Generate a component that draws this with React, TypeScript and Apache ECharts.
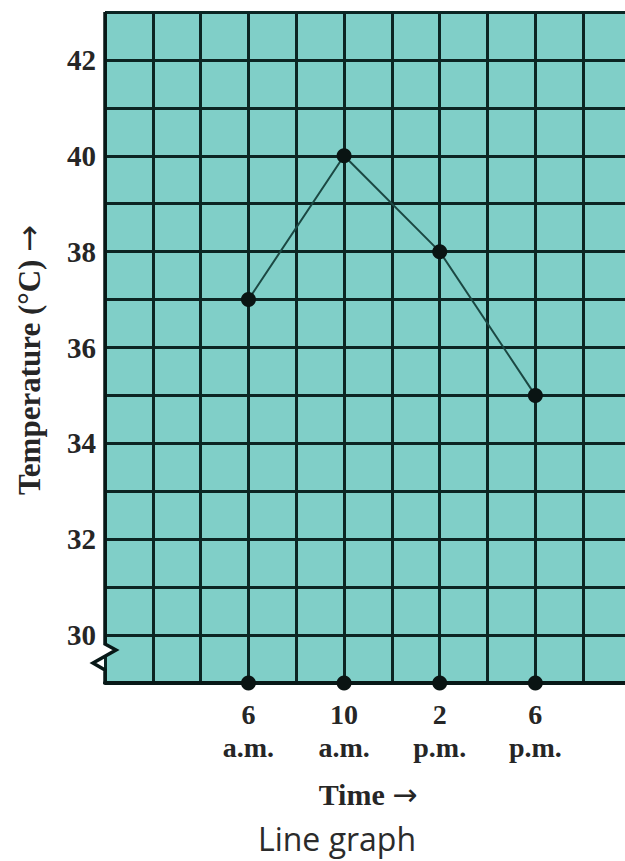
import React, { useEffect, useRef } from "react";
import * as echarts from "echarts";

// ---- data ----
const timeHours = [6, 10, 14, 18];
const timeLabels = ["6\na.m.", "10\na.m.", "2\np.m.", "6\np.m."];
const temperatures = [37, 40, 38, 35];
const yTickLabels = [30, 32, 34, 36, 38, 40, 42];

const SERIF = "'Liberation Serif', 'Times New Roman', serif";
const ARROW_FONT = "'DejaVu Sans', sans-serif";
const TEXT = "#262626";

export default function App() {
  const ref = useRef<HTMLDivElement>(null);

  useEffect(() => {
    if (!ref.current) return;
    const chart = echarts.init(ref.current, undefined, { renderer: "svg" });
    const gridLine = "#0c2523";
    chart.setOption({
      animation: false,
      backgroundColor: "#ffffff",
      grid: {
        left: 105,
        top: 12,
        width: 526,
        height: 671,
        show: true,
        backgroundColor: "#80cfc8",
        borderWidth: 0,
        outerBoundsMode: "none",
        containLabel: false,
      },
      xAxis: {
        type: "value",
        min: 0,
        max: 22,
        interval: 2,
        name: "{t|Time\u00a0}{a|→}",
        nameLocation: "middle",
        nameGap: 96,
        nameTextStyle: {
          color: TEXT,
          rich: {
            t: { fontFamily: SERIF, fontWeight: "bold", fontSize: 30, color: TEXT },
            a: { fontFamily: ARROW_FONT, fontSize: 30, color: TEXT },
          },
        },
        axisLine: { show: true, lineStyle: { color: "#081817", width: 4 } },
        axisTick: { show: false },
        splitLine: { show: true, lineStyle: { color: gridLine, width: 3 } },
        axisLabel: {
          margin: 15,
          fontFamily: SERIF,
          fontWeight: "bold",
          fontSize: 28,
          lineHeight: 33,
          color: TEXT,
          formatter: (v: number) => {
            const i = timeHours.indexOf(v);
            return i >= 0 ? timeLabels[i] : "";
          },
        },
      },
      yAxis: {
        type: "value",
        min: 29,
        max: 43,
        interval: 1,
        axisLine: { show: false },
        axisTick: { show: false },
        splitLine: { show: true, lineStyle: { color: gridLine, width: 3 } },
        axisLabel: {
          margin: 9,
          fontFamily: SERIF,
          fontWeight: "bold",
          fontSize: 29,
          color: TEXT,
          formatter: (v: number) => (yTickLabels.indexOf(v) >= 0 ? String(v) : ""),
        },
      },
      series: [
        {
          type: "line",
          data: timeHours.map((h, i) => [h, temperatures[i]]),
          lineStyle: { color: "#1b4843", width: 2 },
          symbol: "circle",
          symbolSize: 15,
          itemStyle: { color: "#0a1413", opacity: 1 },
          z: 5,
        },
        {
          type: "scatter",
          data: timeHours.map((h) => [h, 29]),
          symbol: "circle",
          symbolSize: 15,
          itemStyle: { color: "#0a1413", opacity: 1 },
          clip: false,
          z: 6,
        },
      ],
    });

    // axis break zigzag on the y axis + free texts
    const top = chart.convertToPixel({ gridIndex: 0 }, [0, 43]) as number[];
    const bot = chart.convertToPixel({ gridIndex: 0 }, [0, 29]) as number[];
    const L = top[0];
    const T = top[1];
    const B = bot[1];
    chart.setOption({
      graphic: [
        {
          type: "polygon",
          z: 100,
          shape: { points: [[L - 2, B - 39], [L + 11, B - 33], [L - 2, B - 26]] },
          style: { fill: "#ffffff" },
        },
        {
          type: "polyline",
          z: 101,
          shape: {
            points: [
              [L, T],
              [L, B - 39],
              [L + 11, B - 33],
              [L - 12, B - 20],
              [L, B - 13],
              [L, B + 1],
            ],
          },
          style: { stroke: "#081817", lineWidth: 3.5, fill: null },
        },
        {
          type: "text",
          x: 29,
          y: 360,
          rotation: Math.PI / 2,
          z: 50,
          style: {
            text: "{t|Temperature (°C)\u00a0}{a|→}",
            align: "center",
            verticalAlign: "middle",
            rich: {
              t: { fontFamily: SERIF, fontWeight: "bold", fontSize: 31, fill: TEXT },
              a: { fontFamily: ARROW_FONT, fontSize: 32, fill: TEXT },
            },
          },
        },
        {
          type: "text",
          x: 337,
          y: 838,
          z: 50,
          style: {
            text: "Line graph",
            fontFamily: "'Open Sans', 'Noto Sans', sans-serif",
            fontWeight: "normal",
            fontSize: 32,
            fill: "#2b2b2b",
            align: "center",
            verticalAlign: "middle",
          },
        },
      ],
    });

    return () => chart.dispose();
  }, []);

  return (
    <div
      ref={ref}
      style={{ position: "fixed", left: 0, top: 0, width: 625, height: 861 }}
    />
  );
}
